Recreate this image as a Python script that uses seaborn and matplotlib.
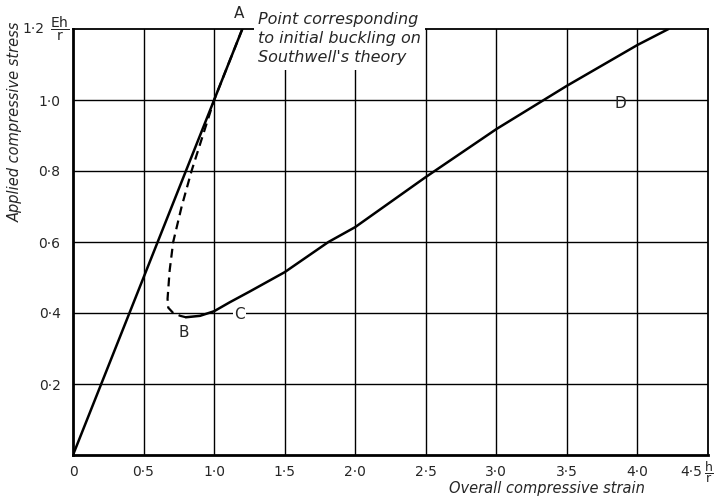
import matplotlib
matplotlib.use('Agg')
import matplotlib.pyplot as plt
import seaborn as sns

# ── data ─────────────────────────────────────────────────────
elastic_x = [0.0, 1.2]
elastic_y = [0.0, 1.2]

# Southwell-type theoretical path A -> B (dashed)
dashed_x = [1.2, 1.1, 1.0, 0.92, 0.84, 0.77, 0.71, 0.685, 0.67, 0.675, 0.71, 0.76, 0.80]
dashed_y = [1.2, 1.1, 1.0, 0.90, 0.80, 0.70, 0.60, 0.52, 0.44, 0.415, 0.40, 0.392, 0.388]

# post-buckling path B -> C -> D (solid)
post_x = [0.80, 0.90, 1.00, 1.11, 1.25, 1.50, 1.81, 2.00, 2.50, 3.00, 3.50, 4.00, 4.22]
post_y = [0.388, 0.392, 0.405, 0.43, 0.46, 0.515, 0.60, 0.642, 0.783, 0.918, 1.04, 1.155, 1.2]

x_ticks = [0, 0.5, 1.0, 1.5, 2.0, 2.5, 3.0, 3.5, 4.0, 4.5]
x_tick_labels = ['0', '0·5', '1·0', '1·5', '2·0', '2·5', '3·0', '3·5', '4·0', '']
y_ticks = [0.2, 0.4, 0.6, 0.8, 1.0]
y_tick_labels = ['0·2', '0·4', '0·6', '0·8', '1·0']

sns.set_style('white')
plt.rcParams['font.family'] = ['DejaVu Sans']
plt.rcParams['mathtext.fontset'] = 'dejavusans'

fig = plt.figure(figsize=(7.27, 4.96), dpi=100)
ax = fig.add_axes([73 / 727, 1 - 455 / 496, 635 / 727, 426 / 496])

sns.lineplot(x=elastic_x, y=elastic_y, ax=ax, color='black', lw=1.8, sort=False, estimator=None)
sns.lineplot(x=dashed_x, y=dashed_y, ax=ax, color='black', lw=1.6, sort=False, estimator=None,
             linestyle=(0, (4, 2.5)))
sns.lineplot(x=post_x, y=post_y, ax=ax, color='black', lw=1.8, sort=False, estimator=None)

ax.set_xlim(0, 4.5)
ax.set_ylim(0, 1.2)
ax.set_xticks(x_ticks)
ax.set_xticklabels(x_tick_labels, fontsize=10)
ax.set_yticks(y_ticks)
ax.set_yticklabels(y_tick_labels, fontsize=10)
ax.tick_params(axis='x', length=0, pad=7)
ax.tick_params(axis='y', length=0, pad=9)
ax.set_xlabel('')
ax.set_ylabel('')

for v in x_ticks[1:-1]:
    ax.axvline(v, color='black', lw=1.0, zorder=0)
for v in y_ticks:
    ax.axhline(v, color='black', lw=1.0, zorder=0)
for s in ax.spines.values():
    s.set_color('black')
    s.set_linewidth(1.3)
ax.spines['left'].set_linewidth(2.0)
ax.spines['bottom'].set_linewidth(2.0)

# top y tick and last x tick with their units
ax.text(-0.2, 1.2, '1·2', ha='right', va='center', fontsize=10, clip_on=False)
ax.text(-0.165, 1.2, r'$\dfrac{\mathrm{Eh}}{\mathrm{r}}$', ha='left', va='center', fontsize=10,
        clip_on=False)
ax.text(4.458, -0.047, '4·5', ha='right', va='center', fontsize=10, clip_on=False)
ax.text(4.47, -0.047, r'$\dfrac{\mathrm{h}}{\mathrm{r}}$', ha='left', va='center', fontsize=9,
        clip_on=False)

# point labels
ax.text(1.18, 1.243, 'A', ha='center', va='center', fontsize=11, clip_on=False)
ax.text(0.787, 0.344, 'B', ha='center', va='center', fontsize=11)
ax.text(1.18, 0.397, 'C', ha='center', va='center', fontsize=11,
        bbox=dict(facecolor='white', edgecolor='none', pad=1))
ax.text(3.88, 0.99, 'D', ha='center', va='center', fontsize=11)

ax.text(1.31, 1.248, "Point corresponding\nto initial buckling on\nSouthwell's theory",
        ha='left', va='top', fontsize=11.5, style='italic', linespacing=1.35, clip_on=False,
        bbox=dict(facecolor='white', edgecolor='none', pad=3))

fig.text(15 / 727, 1 - 122 / 496, 'Applied compressive stress', rotation=90, ha='center',
         va='center', fontsize=10.5, style='italic')
fig.text(547 / 727, 1 - 488 / 496, 'Overall compressive strain', ha='center', va='center',
         fontsize=10.5, style='italic')

fig.savefig('out.png', dpi=100, facecolor='white')
